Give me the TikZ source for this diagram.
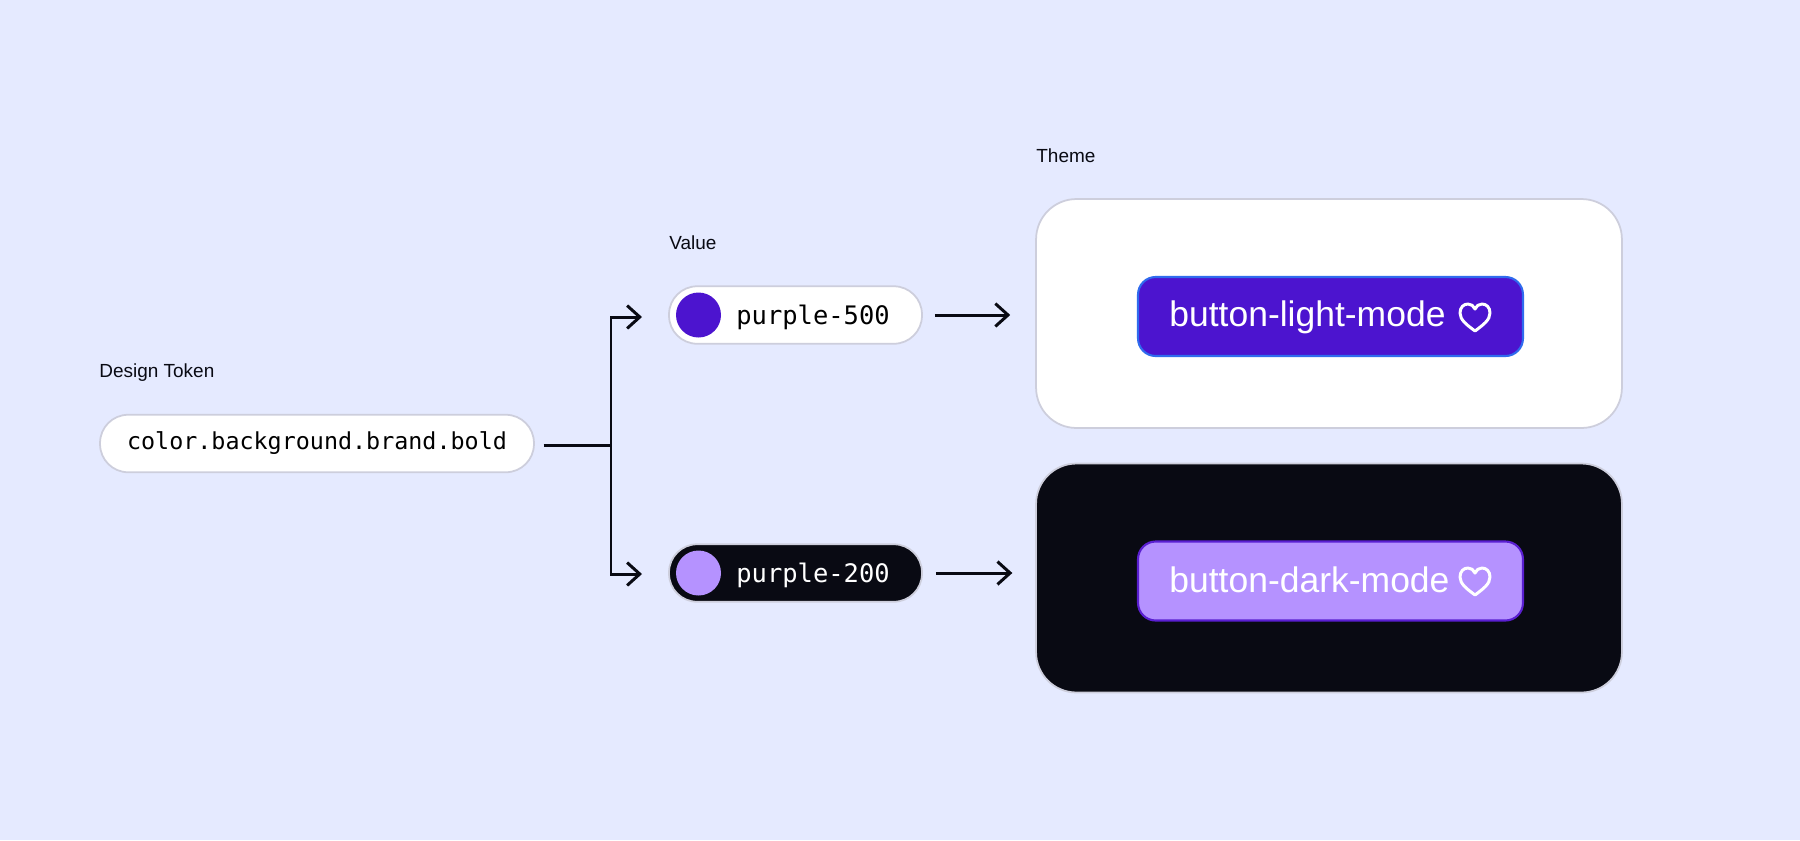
\documentclass[tikz,border=0pt]{standalone}
\usepackage{fontspec}
\setmainfont{Liberation Sans}
\setmonofont{DejaVu Sans Mono}
\usetikzlibrary{arrows.meta,positioning}
\definecolor{pagebg}{HTML}{E5EAFF}
\definecolor{inkdark}{HTML}{090A13}
\definecolor{edgegrey}{HTML}{CDCEDC}
\definecolor{purplefive}{HTML}{4C14CF}
\definecolor{purpletwo}{HTML}{B592FF}
\definecolor{edgeblue}{HTML}{2F6BEE}
\definecolor{edgepurple}{HTML}{5A1FD1}
\tikzset{
  tag/.style={anchor=west,inner sep=0pt,text=inkdark,font=\fontsize{10.8}{12}\selectfont},
  pill/.style={rectangle,rounded corners=16pt,draw=edgegrey,line width=1pt,minimum height=1.15cm,inner sep=0pt},
  swatch/.style={circle,inner sep=0pt,minimum size=0.9cm},
  code/.style={anchor=west,inner sep=0pt,font=\ttfamily\fontsize{14.5}{16}\selectfont},
  card/.style={rectangle,rounded corners=23pt,draw=edgegrey,line width=1pt,minimum width=11.72cm,minimum height=4.58cm,inner sep=0pt},
  btn/.style={rectangle,rounded corners=10pt,line width=1.2pt,minimum width=7.7cm,minimum height=1.58cm,inner sep=0pt},
  btntext/.style={anchor=west,inner sep=0pt,text=white,font=\fontsize{20.2}{22}\selectfont},
  flow/.style={draw=inkdark,line width=1.7pt},
  tip/.style={-{Straight Barb[length=7.2pt,width=13pt,line width=1.7pt]}},
  pics/heart/.style={code={
    \draw[white,line width=1.7pt,line join=round]
      (0,14) .. controls (-8,8) and (-15,3) .. (-15,-4)
      .. controls (-15,-10) and (-11,-13) .. (-7,-13)
      .. controls (-4,-13) and (-1,-11) .. (0,-8)
      .. controls (1,-11) and (4,-13) .. (7,-13)
      .. controls (11,-13) and (15,-10) .. (15,-4)
      .. controls (15,3) and (8,8) .. (0,14) -- cycle;
  }}
}
\begin{document}
\begin{tikzpicture}[x=0.02cm,y=-0.02cm]
\fill[pagebg] (0,0) rectangle (1800,840);
\useasboundingbox (0,0) rectangle (1800,840);

\node[tag] (tokenlabel) at (99,373) {Design Token};
\node[pill,fill=white,minimum width=8.68cm] (token) at (317,443.5)
{\raisebox{-1pt}{\ttfamily\fontsize{13.3}{16}\selectfont color.background.brand.bold}};

\node[tag] (valuelabel) at (669,243) {Value};
\node[pill,fill=white,minimum width=5.06cm] (value500) at (795.5,315) {};
\node[swatch,fill=purplefive] (dot500) at (698.5,315) {};
\node[code,text=black] (name500) at (736,317) {purple-500};
\node[pill,fill=inkdark,minimum width=5.06cm] (value200) at (795.5,573) {};
\node[swatch,fill=purpletwo] (dot200) at (698.5,573) {};
\node[code,text=white] (name200) at (736,575) {purple-200};

\node[tag] (themelabel) at (1036,156) {Theme};
\node[card,fill=white] (cardlight) at (1329,313.5) {};
\node[card,fill=inkdark] (carddark) at (1329,578) {};
\node[btn,fill=purplefive,draw=edgeblue] (btnlight) at (1330.5,316.5) {};
\node[btn,fill=purpletwo,draw=edgepurple] (btndark) at (1330.5,581) {};
\node[btntext] (textlight) at (1169,317) {button-light-mode};
\node[btntext] (textdark) at (1169,580) {button-dark-mode};
\pic at (1475,317) {heart};
\pic at (1475,581) {heart};

\coordinate (junction) at (611,445);
\coordinate (inlight) at (642,317);
\coordinate (indark) at (642,574);

\draw[flow,shorten <=5pt] (token.east |- junction) -- (junction);
\draw[flow,tip] (junction) |- (inlight);
\draw[flow,tip] (junction) |- (indark);
\draw[flow,tip,shorten <=6.8pt,shorten >=14.2pt] (value500.east) -- (value500.east -| cardlight.west);
\draw[flow,tip,shorten <=7.4pt,shorten >=13pt] (value200.east) -- (value200.east -| carddark.west);
\end{tikzpicture}
\end{document}
